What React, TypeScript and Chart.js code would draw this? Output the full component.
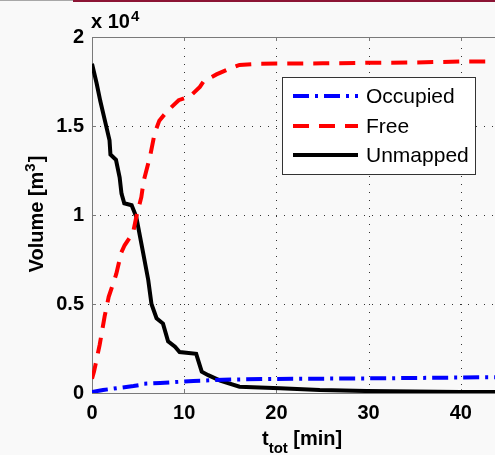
import React, { useEffect, useRef } from "react";
import { Chart, registerables } from "chart.js";

Chart.register(...registerables);

// Time axis [min]
const xTicks = [0, 10, 20, 30, 40, 50];
const yTicks = [0, 0.5, 1, 1.5, 2];

// Volumes in units of 10^4 m^3
const occupiedT = [0, 0.9, 1.2, 4.5, 5.2, 5.6, 7.4, 11, 15.3, 20, 29.8, 42.4, 50];
const occupiedV = [0.006, 0.014, 0.017, 0.039, 0.045, 0.052, 0.056, 0.068, 0.076, 0.079, 0.082, 0.088, 0.089];

const freeT = [0, 0.22, 0.83, 1.37, 1.81, 2.64, 3.18, 3.54, 4.45, 4.81, 5.35, 5.6, 6.3, 6.8, 7.3, 8.1, 9.4, 10.6, 11.7, 12.1, 13.5, 14.6, 16.0, 18.2, 25, 30, 35, 40, 50];
const freeV = [0.08, 0.12, 0.27, 0.43, 0.54, 0.67, 0.79, 0.83, 0.9, 0.99, 1.1, 1.19, 1.33, 1.46, 1.53, 1.58, 1.645, 1.665, 1.72, 1.75, 1.79, 1.815, 1.843, 1.85, 1.852, 1.855, 1.857, 1.862, 1.865];

const unmappedT = [0, 0.5, 0.9, 1.4, 1.9, 2.0, 2.6, 3.0, 3.2, 3.5, 4.3, 4.8, 5.5, 6.1, 6.45, 7.0, 7.7, 8.25, 9.0, 9.5, 11.3, 11.9, 12.6, 13.9, 16.0, 20.4, 24.7, 29.8, 35, 40, 50];
const unmappedV = [1.85, 1.74, 1.64, 1.53, 1.42, 1.34, 1.31, 1.21, 1.12, 1.066, 1.055, 0.99, 0.8, 0.635, 0.5, 0.42, 0.39, 0.29, 0.26, 0.23, 0.22, 0.12, 0.1, 0.07, 0.035, 0.027, 0.017, 0.011, 0.008, 0.006, 0.005];

const seriesLabels = ["Occupied", "Free", "Unmapped"];

const toPts = (t: number[], v: number[]) => t.map((x, i) => ({ x, y: v[i] }));

const FONT = '"Liberation Sans", Arial, sans-serif';

const matlabPlugin = {
  id: "matlab",
  beforeDatasetsDraw(chart: any) {
    const { ctx, chartArea: a, scales } = chart;
    const xs = scales.x, ys = scales.y;
    ctx.save();
    // dotted grid
    ctx.strokeStyle = "#333";
    ctx.lineWidth = 1;
    ctx.setLineDash([1, 7]);
    xTicks.forEach((t) => {
      if (t === 0) return;
      const px = Math.round(xs.getPixelForValue(t)) + 0.5;
      ctx.beginPath();
      ctx.moveTo(px, a.bottom);
      ctx.lineTo(px, a.top);
      ctx.stroke();
    });
    yTicks.forEach((v) => {
      if (v === 0 || v === 2) return;
      const py = Math.round(ys.getPixelForValue(v)) + 0.5;
      ctx.beginPath();
      ctx.moveTo(a.left, py);
      ctx.lineTo(a.right, py);
      ctx.stroke();
    });
    ctx.setLineDash([]);
    // axes box
    ctx.strokeStyle = "#7a7a7a";
    ctx.lineWidth = 1;
    ctx.beginPath();
    ctx.moveTo(a.left + 0.5, a.bottom + 0.5);
    ctx.lineTo(a.left + 0.5, a.top + 0.5);
    ctx.lineTo(a.right + 0.5, a.top + 0.5);
    ctx.moveTo(a.left, a.bottom + 0.5);
    ctx.lineTo(a.right, a.bottom + 0.5);
    ctx.stroke();
    // inward ticks
    ctx.beginPath();
    xTicks.forEach((t) => {
      const px = Math.round(xs.getPixelForValue(t)) + 0.5;
      ctx.moveTo(px, a.bottom);
      ctx.lineTo(px, a.bottom - 4);
      ctx.moveTo(px, a.top);
      ctx.lineTo(px, a.top + 4);
    });
    yTicks.forEach((v) => {
      const py = Math.round(ys.getPixelForValue(v)) + 0.5;
      ctx.moveTo(a.left, py);
      ctx.lineTo(a.left + 4, py);
    });
    ctx.stroke();
    ctx.restore();
  },
  afterDatasetsDraw(chart: any) {
    const { ctx } = chart;
    ctx.save();
    // Legend
    const bx = 282, by = 77, bw = 193, bh = 97;
    ctx.fillStyle = "#ffffff";
    ctx.fillRect(bx, by, bw, bh);
    ctx.strokeStyle = "#333";
    ctx.lineWidth = 1;
    ctx.strokeRect(bx + 0.5, by + 0.5, bw, bh);
    const rows = [96, 126, 155];
    chart.data.datasets.forEach((ds: any, i: number) => {
      const y = rows[i];
      ctx.strokeStyle = ds.borderColor;
      ctx.lineWidth = ds.borderWidth;
      ctx.setLineDash(ds.borderDash || []);
      ctx.beginPath();
      ctx.moveTo(293, y);
      ctx.lineTo(358, y);
      ctx.stroke();
      ctx.setLineDash([]);
      ctx.fillStyle = "#000";
      ctx.font = `21px ${FONT}`;
      ctx.textBaseline = "middle";
      ctx.textAlign = "left";
      ctx.fillText(ds.label, 366, y + 1);
    });

    ctx.fillStyle = "#000";
    ctx.textBaseline = "alphabetic";
    ctx.textAlign = "left";
    // x 10^4
    ctx.font = `bold 20px ${FONT}`;
    ctx.fillText("x 10", 91, 28);
    const w1 = ctx.measureText("x 10").width;
    ctx.font = `bold 15px ${FONT}`;
    ctx.fillText("4", 91 + w1 + 1, 21);

    // x title: t_tot [min]
    let x = 262;
    ctx.font = `bold 20px ${FONT}`;
    ctx.fillText("t", x, 445);
    x += ctx.measureText("t").width;
    ctx.font = `bold 15px ${FONT}`;
    ctx.fillText("tot", x, 453);
    x += ctx.measureText("tot").width;
    ctx.font = `bold 20px ${FONT}`;
    ctx.fillText(" [min]", x, 445);

    // y title: Volume [m^3]
    ctx.translate(43, 214);
    ctx.rotate(-Math.PI / 2);
    ctx.font = `bold 20px ${FONT}`;
    const p1 = "Volume [m";
    const wA = ctx.measureText(p1).width;
    const wB = ctx.measureText("]").width;
    ctx.font = `bold 15px ${FONT}`;
    const wS = ctx.measureText("3").width;
    const total = wA + wS + wB + 1;
    let lx = -total / 2;
    ctx.font = `bold 20px ${FONT}`;
    ctx.fillText(p1, lx, 0);
    lx += wA;
    ctx.font = `bold 15px ${FONT}`;
    ctx.fillText("3", lx, -8);
    lx += wS + 1;
    ctx.font = `bold 20px ${FONT}`;
    ctx.fillText("]", lx, 0);
    ctx.restore();
  },
};

export default function App() {
  const ref = useRef<HTMLCanvasElement | null>(null);
  useEffect(() => {
    if (!ref.current) return;
    const chart = new Chart(ref.current, {
      type: "line",
      data: {
        datasets: [
          {
            label: seriesLabels[0],
            data: toPts(occupiedT, occupiedV),
            borderColor: "#0000ff",
            borderWidth: 4,
            borderDash: [16, 6, 3, 6],
            pointRadius: 0,
            tension: 0,
          },
          {
            label: seriesLabels[1],
            data: toPts(freeT, freeV),
            borderColor: "#ff0000",
            borderWidth: 4,
            borderDash: [16, 10],
            pointRadius: 0,
            tension: 0,
          },
          {
            label: seriesLabels[2],
            data: toPts(unmappedT, unmappedV),
            borderColor: "#000000",
            borderWidth: 4,
            pointRadius: 0,
            tension: 0,
          },
        ],
      },
      options: {
        animation: false,
        responsive: false,
        devicePixelRatio: 1,
        layout: { padding: { left: 0, top: 37, right: 47, bottom: 0 } },
        plugins: { legend: { display: false }, tooltip: { enabled: false } },
        scales: {
          x: {
            type: "linear",
            min: 0,
            max: 50,
            afterFit: (axis: any) => { axis.height = 62; },
            afterBuildTicks: (axis: any) => { axis.ticks = xTicks.map((v) => ({ value: v })); },
            grid: { display: false, drawTicks: false },
            border: { display: false },
            ticks: {
              padding: 8,
              color: "#000",
              font: { family: FONT, size: 20, weight: "bold" },
              callback: (v: any) => String(v),
              maxRotation: 0,
            },
          },
          y: {
            type: "linear",
            min: 0,
            max: 2,
            afterFit: (axis: any) => { axis.width = 92; },
            afterBuildTicks: (axis: any) => { axis.ticks = yTicks.map((v) => ({ value: v })); },
            grid: { display: false, drawTicks: false },
            border: { display: false },
            ticks: {
              padding: 8,
              color: "#000",
              font: { family: FONT, size: 20, weight: "bold" },
              callback: (v: any) => String(v),
            },
          },
        },
      },
      plugins: [matlabPlugin],
    });
    return () => chart.destroy();
  }, []);

  return (
    <div
      style={{
        position: "fixed",
        left: 0,
        top: 0,
        width: 495,
        height: 455,
        overflow: "hidden",
        background: "#f9f9f9",
      }}
    >
      <div style={{ position: "absolute", left: 0, top: 0, width: 73, height: 1, background: "#a8a8a8" }} />
      <div style={{ position: "absolute", left: 73, top: 0, width: 422, height: 2, background: "#8c1434" }} />
      <canvas ref={ref} width={600} height={455} style={{ position: "absolute", left: 0, top: 0, width: 600, height: 455 }} />
    </div>
  );
}
